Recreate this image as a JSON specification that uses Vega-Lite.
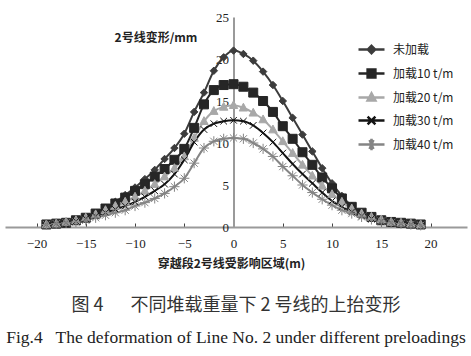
{
"$schema": "https://vega.github.io/schema/vega-lite/v6.json",
"width": 462, "height": 210,
"autosize": {"type": "none"},
"padding": {"left": 5, "top": 17, "right": 4, "bottom": 129},
"background": "white",
"config": {
  "view": {"stroke": null},
  "legend": {"symbolSize": 676, "symbolStrokeWidth": 2.5, "labelFont": "Noto Sans CJK SC", "labelFontSize": 12, "labelColor": "#222", "rowPadding": -4.6, "labelOffset": 7, "padding": 0}
},
"title": {"text": "图 4\u3000\u2002不同堆载重量下 2 号线的上抬变形", "subtitle": "Fig.4\u2002 The deformation of Line No. 2 under different preloadings", "orient": "bottom", "anchor": "middle", "font": "Noto Sans CJK SC", "fontSize": 18, "fontWeight": "normal", "color": "#333", "subtitleFont": "Liberation Serif", "subtitleFontSize": 17.5, "subtitleColor": "#222", "subtitlePadding": 14, "offset": 28},
"data": {"values": [
{"s":"未加载","x":-19,"y":0.4},{"s":"未加载","x":-18,"y":0.5},{"s":"未加载","x":-17,"y":0.6},{"s":"未加载","x":-16,"y":0.8},{"s":"未加载","x":-15,"y":1.2},{"s":"未加载","x":-14,"y":1.7},{"s":"未加载","x":-13,"y":2.3},{"s":"未加载","x":-12,"y":3.0},{"s":"未加载","x":-11,"y":3.8},{"s":"未加载","x":-10,"y":4.7},{"s":"未加载","x":-9,"y":5.7},{"s":"未加载","x":-8,"y":6.8},{"s":"未加载","x":-7,"y":8.1},{"s":"未加载","x":-6,"y":9.4},{"s":"未加载","x":-5,"y":11.1},{"s":"未加载","x":-4,"y":13.7},{"s":"未加载","x":-3,"y":16.0},{"s":"未加载","x":-2,"y":18.6},{"s":"未加载","x":-1,"y":20.2},{"s":"未加载","x":0,"y":21.0},{"s":"未加载","x":1,"y":20.6},{"s":"未加载","x":2,"y":19.8},{"s":"未加载","x":3,"y":18.5},{"s":"未加载","x":4,"y":16.9},{"s":"未加载","x":5,"y":15.0},{"s":"未加载","x":6,"y":13.0},{"s":"未加载","x":7,"y":11.0},{"s":"未加载","x":8,"y":9.0},{"s":"未加载","x":9,"y":7.0},{"s":"未加载","x":10,"y":5.2},{"s":"未加载","x":11,"y":3.7},{"s":"未加载","x":12,"y":2.5},{"s":"未加载","x":13,"y":1.7},{"s":"未加载","x":14,"y":1.2},{"s":"未加载","x":15,"y":0.9},{"s":"未加载","x":16,"y":0.7},{"s":"未加载","x":17,"y":0.5},{"s":"未加载","x":18,"y":0.4},{"s":"未加载","x":19,"y":0.3},
{"s":"加载10 t/m","x":-19,"y":0.3},{"s":"加载10 t/m","x":-18,"y":0.4},{"s":"加载10 t/m","x":-17,"y":0.5},{"s":"加载10 t/m","x":-16,"y":0.8},{"s":"加载10 t/m","x":-15,"y":1.1},{"s":"加载10 t/m","x":-14,"y":1.6},{"s":"加载10 t/m","x":-13,"y":2.2},{"s":"加载10 t/m","x":-12,"y":2.8},{"s":"加载10 t/m","x":-11,"y":3.5},{"s":"加载10 t/m","x":-10,"y":4.3},{"s":"加载10 t/m","x":-9,"y":5.1},{"s":"加载10 t/m","x":-8,"y":6.0},{"s":"加载10 t/m","x":-7,"y":6.9},{"s":"加载10 t/m","x":-6,"y":8.0},{"s":"加载10 t/m","x":-5,"y":9.3},{"s":"加载10 t/m","x":-4,"y":11.8},{"s":"加载10 t/m","x":-3,"y":14.6},{"s":"加载10 t/m","x":-2,"y":16.3},{"s":"加载10 t/m","x":-1,"y":16.9},{"s":"加载10 t/m","x":0,"y":17.0},{"s":"加载10 t/m","x":1,"y":16.7},{"s":"加载10 t/m","x":2,"y":16.0},{"s":"加载10 t/m","x":3,"y":15.0},{"s":"加载10 t/m","x":4,"y":13.7},{"s":"加载10 t/m","x":5,"y":12.0},{"s":"加载10 t/m","x":6,"y":10.5},{"s":"加载10 t/m","x":7,"y":8.9},{"s":"加载10 t/m","x":8,"y":7.4},{"s":"加载10 t/m","x":9,"y":5.9},{"s":"加载10 t/m","x":10,"y":4.6},{"s":"加载10 t/m","x":11,"y":3.4},{"s":"加载10 t/m","x":12,"y":2.4},{"s":"加载10 t/m","x":13,"y":1.7},{"s":"加载10 t/m","x":14,"y":1.2},{"s":"加载10 t/m","x":15,"y":0.8},{"s":"加载10 t/m","x":16,"y":0.6},{"s":"加载10 t/m","x":17,"y":0.5},{"s":"加载10 t/m","x":18,"y":0.4},{"s":"加载10 t/m","x":19,"y":0.3},
{"s":"加载20 t/m","x":-19,"y":0.3},{"s":"加载20 t/m","x":-18,"y":0.4},{"s":"加载20 t/m","x":-17,"y":0.6},{"s":"加载20 t/m","x":-16,"y":0.8},{"s":"加载20 t/m","x":-15,"y":1.1},{"s":"加载20 t/m","x":-14,"y":1.5},{"s":"加载20 t/m","x":-13,"y":2.0},{"s":"加载20 t/m","x":-12,"y":2.5},{"s":"加载20 t/m","x":-11,"y":3.0},{"s":"加载20 t/m","x":-10,"y":3.6},{"s":"加载20 t/m","x":-9,"y":4.3},{"s":"加载20 t/m","x":-8,"y":5.1},{"s":"加载20 t/m","x":-7,"y":6.0},{"s":"加载20 t/m","x":-6,"y":7.0},{"s":"加载20 t/m","x":-5,"y":8.4},{"s":"加载20 t/m","x":-4,"y":10.6},{"s":"加载20 t/m","x":-3,"y":12.6},{"s":"加载20 t/m","x":-2,"y":13.8},{"s":"加载20 t/m","x":-1,"y":14.3},{"s":"加载20 t/m","x":0,"y":14.5},{"s":"加载20 t/m","x":1,"y":14.2},{"s":"加载20 t/m","x":2,"y":13.6},{"s":"加载20 t/m","x":3,"y":12.8},{"s":"加载20 t/m","x":4,"y":11.6},{"s":"加载20 t/m","x":5,"y":10.2},{"s":"加载20 t/m","x":6,"y":8.8},{"s":"加载20 t/m","x":7,"y":7.4},{"s":"加载20 t/m","x":8,"y":6.1},{"s":"加载20 t/m","x":9,"y":4.9},{"s":"加载20 t/m","x":10,"y":3.9},{"s":"加载20 t/m","x":11,"y":3.0},{"s":"加载20 t/m","x":12,"y":2.2},{"s":"加载20 t/m","x":13,"y":1.6},{"s":"加载20 t/m","x":14,"y":1.2},{"s":"加载20 t/m","x":15,"y":0.9},{"s":"加载20 t/m","x":16,"y":0.6},{"s":"加载20 t/m","x":17,"y":0.5},{"s":"加载20 t/m","x":18,"y":0.4},{"s":"加载20 t/m","x":19,"y":0.3},
{"s":"加载30 t/m","x":-19,"y":0.3},{"s":"加载30 t/m","x":-18,"y":0.4},{"s":"加载30 t/m","x":-17,"y":0.5},{"s":"加载30 t/m","x":-16,"y":0.7},{"s":"加载30 t/m","x":-15,"y":1.0},{"s":"加载30 t/m","x":-14,"y":1.3},{"s":"加载30 t/m","x":-13,"y":1.7},{"s":"加载30 t/m","x":-12,"y":2.1},{"s":"加载30 t/m","x":-11,"y":2.5},{"s":"加载30 t/m","x":-10,"y":3.0},{"s":"加载30 t/m","x":-9,"y":3.6},{"s":"加载30 t/m","x":-8,"y":4.3},{"s":"加载30 t/m","x":-7,"y":5.1},{"s":"加载30 t/m","x":-6,"y":6.3},{"s":"加载30 t/m","x":-5,"y":8.0},{"s":"加载30 t/m","x":-4,"y":10.1},{"s":"加载30 t/m","x":-3,"y":11.6},{"s":"加载30 t/m","x":-2,"y":12.3},{"s":"加载30 t/m","x":-1,"y":12.6},{"s":"加载30 t/m","x":0,"y":12.7},{"s":"加载30 t/m","x":1,"y":12.6},{"s":"加载30 t/m","x":2,"y":12.1},{"s":"加载30 t/m","x":3,"y":11.2},{"s":"加载30 t/m","x":4,"y":10.1},{"s":"加载30 t/m","x":5,"y":8.8},{"s":"加载30 t/m","x":6,"y":7.5},{"s":"加载30 t/m","x":7,"y":6.3},{"s":"加载30 t/m","x":8,"y":5.2},{"s":"加载30 t/m","x":9,"y":4.1},{"s":"加载30 t/m","x":10,"y":3.1},{"s":"加载30 t/m","x":11,"y":2.4},{"s":"加载30 t/m","x":12,"y":1.8},{"s":"加载30 t/m","x":13,"y":1.3},{"s":"加载30 t/m","x":14,"y":1.0},{"s":"加载30 t/m","x":15,"y":0.7},{"s":"加载30 t/m","x":16,"y":0.5},{"s":"加载30 t/m","x":17,"y":0.4},{"s":"加载30 t/m","x":18,"y":0.3},{"s":"加载30 t/m","x":19,"y":0.2},
{"s":"加载40 t/m","x":-19,"y":0.3},{"s":"加载40 t/m","x":-18,"y":0.4},{"s":"加载40 t/m","x":-17,"y":0.5},{"s":"加载40 t/m","x":-16,"y":0.6},{"s":"加载40 t/m","x":-15,"y":0.8},{"s":"加载40 t/m","x":-14,"y":1.1},{"s":"加载40 t/m","x":-13,"y":1.4},{"s":"加载40 t/m","x":-12,"y":1.7},{"s":"加载40 t/m","x":-11,"y":2.0},{"s":"加载40 t/m","x":-10,"y":2.5},{"s":"加载40 t/m","x":-9,"y":2.9},{"s":"加载40 t/m","x":-8,"y":3.4},{"s":"加载40 t/m","x":-7,"y":4.0},{"s":"加载40 t/m","x":-6,"y":4.8},{"s":"加载40 t/m","x":-5,"y":5.8},{"s":"加载40 t/m","x":-4,"y":7.6},{"s":"加载40 t/m","x":-3,"y":9.4},{"s":"加载40 t/m","x":-2,"y":10.2},{"s":"加载40 t/m","x":-1,"y":10.5},{"s":"加载40 t/m","x":0,"y":10.6},{"s":"加载40 t/m","x":1,"y":10.5},{"s":"加载40 t/m","x":2,"y":10.0},{"s":"加载40 t/m","x":3,"y":9.3},{"s":"加载40 t/m","x":4,"y":8.4},{"s":"加载40 t/m","x":5,"y":7.2},{"s":"加载40 t/m","x":6,"y":6.1},{"s":"加载40 t/m","x":7,"y":5.0},{"s":"加载40 t/m","x":8,"y":4.1},{"s":"加载40 t/m","x":9,"y":3.3},{"s":"加载40 t/m","x":10,"y":2.6},{"s":"加载40 t/m","x":11,"y":2.0},{"s":"加载40 t/m","x":12,"y":1.6},{"s":"加载40 t/m","x":13,"y":1.2},{"s":"加载40 t/m","x":14,"y":0.9},{"s":"加载40 t/m","x":15,"y":0.7},{"s":"加载40 t/m","x":16,"y":0.5},{"s":"加载40 t/m","x":17,"y":0.4},{"s":"加载40 t/m","x":18,"y":0.3},{"s":"加载40 t/m","x":19,"y":0.2}
]},
"encoding": {
  "x": {"field": "x", "type": "quantitative", "scale": {"domain": [-23.2, 23.7], "nice": false, "zero": false},
    "axis": {"title": "穿越段2号线受影响区域(m)", "values": [-20,-15,-10,-5,0,5,10,15,20], "grid": false, "domainColor": "#9a9a9a", "domainWidth": 2, "tickColor": "#444", "tickSize": -4, "labelPadding": 14, "labelFont": "Liberation Serif", "labelFontSize": 13, "labelColor": "#222", "titleFont": "Noto Sans CJK SC", "titleFontSize": 12, "titleFontWeight": "bold", "titleColor": "#222", "titlePadding": 8, "titleX": 226}},
  "y": {"field": "y", "type": "quantitative", "scale": {"domain": [0, 25], "nice": false},
    "axis": {"orient": "left", "offset": -228.5, "values": [0,5,10,15,20,25], "grid": false, "ticks": false, "domainColor": "#9a9a9a", "domainWidth": 2, "labelPadding": 5, "labelFont": "Liberation Serif", "labelFontSize": 13, "labelColor": "#222", "title": "2号线变形/mm", "titleAngle": 0, "titleAlign": "center", "titleBaseline": "middle", "titleX": -78, "titleY": 20, "titleFont": "Noto Sans CJK SC", "titleFontSize": 12, "titleFontWeight": "bold", "titleColor": "#222"}}
},
"layer": [
  {"mark": {"type": "line", "strokeWidth": 2, "interpolate": "monotone"},
   "encoding": {"color": {"field": "s", "type": "nominal", "scale": {"domain": ["未加载","加载10 t/m","加载20 t/m","加载30 t/m","加载40 t/m"], "range": ["#3c3c3c","#262626","#a8a8a8","#141414","#858585"]}, "legend": null}}},
  {"mark": {"type": "point", "filled": true, "opacity": 1, "size": 144, "strokeWidth": 1},
   "encoding": {
     "shape": {"field": "s", "type": "nominal", "scale": {"domain": ["未加载","加载10 t/m","加载20 t/m","加载30 t/m","加载40 t/m"], "range": ["M0,-0.62L0.62,0L0,0.62L-0.62,0Z","M-0.75,-0.75H0.75V0.75H-0.75Z","M0,-0.75L0.7,0.55H-0.7Z","M-0.55,-0.55L0.55,0.55M0.55,-0.55L-0.55,0.55","M-0.85,0H0.85M0,-0.85V0.85M-0.6,-0.6L0.6,0.6M0.6,-0.6L-0.6,0.6"]}, "legend": null},
     "color": {"field": "s", "type": "nominal", "scale": {"domain": ["未加载","加载10 t/m","加载20 t/m","加载30 t/m","加载40 t/m"], "range": ["#3c3c3c","#262626","#a8a8a8","#141414","#858585"]}, "legend": null},
     "stroke": {"field": "s", "type": "nominal", "scale": {"domain": ["未加载","加载10 t/m","加载20 t/m","加载30 t/m","加载40 t/m"], "range": ["#3c3c3c","#262626","#a8a8a8","#141414","#858585"]}, "legend": null}}},
  {"transform": [{"filter": "datum.x > 100"}],
   "mark": {"type": "point", "filled": true, "opacity": 1, "strokeWidth": 2.5},
   "encoding": {
     "shape": {"field": "s", "type": "nominal", "scale": {"domain": ["未加载","加载10 t/m","加载20 t/m","加载30 t/m","加载40 t/m"], "range": ["M-1,0H1M0,-0.28L0.28,0L0,0.28L-0.28,0Z","M-1,0H1M-0.3,-0.3H0.3V0.3H-0.3Z","M-1,0H1M0,-0.32L0.3,0.24H-0.3Z","M-1,0H1M-0.3,-0.3L0.3,0.3M0.3,-0.3L-0.3,0.3","M-1,0H1M0,-0.45V0.45M-0.15,-0.35L0.15,0.35M0.15,-0.35L-0.15,0.35"]}, "legend": {"orient": "none", "legendX": 352, "legendY": 18, "title": null}},
     "color": {"field": "s", "type": "nominal", "scale": {"domain": ["未加载","加载10 t/m","加载20 t/m","加载30 t/m","加载40 t/m"], "range": ["#3c3c3c","#262626","#a8a8a8","#141414","#858585"]}, "legend": {"orient": "none", "legendX": 352, "legendY": 18, "title": null}},
     "stroke": {"field": "s", "type": "nominal", "scale": {"domain": ["未加载","加载10 t/m","加载20 t/m","加载30 t/m","加载40 t/m"], "range": ["#3c3c3c","#262626","#a8a8a8","#141414","#858585"]}, "legend": {"orient": "none", "legendX": 352, "legendY": 18, "title": null}}}}
],
"resolve": {"scale": {"color": "independent", "shape": "independent", "stroke": "independent"}, "legend": {"color": "independent", "shape": "independent", "stroke": "independent"}}
}
